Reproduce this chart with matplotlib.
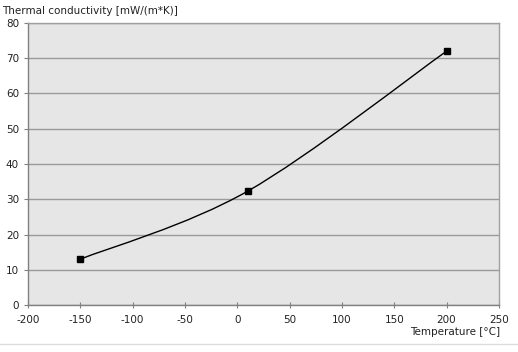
import matplotlib
matplotlib.use("Agg")
import matplotlib.pyplot as plt
from matplotlib.path import Path
from matplotlib.patches import PathPatch

plt.rcParams['font.family'] = ['Liberation Sans Narrow', 'DejaVu Sans']
plt.rcParams['axes.unicode_minus'] = False

temperature = [-150, 10, 200]
conductivity = [13, 32.3, 72]
x_ticks = [-200, -150, -100, -50, 0, 50, 100, 150, 200, 250]
y_ticks = [0, 10, 20, 30, 40, 50, 60, 70, 80]


def smooth_path(xs, ys, tension=1 / 6):
    # Bezier segments through the points (like a spreadsheet "smoothed line")
    pts = list(zip(xs, ys))
    verts = [pts[0]]
    codes = [Path.MOVETO]
    for i in range(len(pts) - 1):
        p0 = pts[i - 1] if i > 0 else pts[i]
        p1 = pts[i]
        p2 = pts[i + 1]
        p3 = pts[i + 2] if i + 2 < len(pts) else pts[i + 1]
        c1 = (p1[0] + (p2[0] - p0[0]) * tension, p1[1] + (p2[1] - p0[1]) * tension)
        c2 = (p2[0] - (p3[0] - p1[0]) * tension, p2[1] - (p3[1] - p1[1]) * tension)
        verts += [c1, c2, p2]
        codes += [Path.CURVE4] * 3
    return Path(verts, codes)


fig = plt.figure(figsize=(5.18, 3.52), dpi=100)
ax = fig.add_axes([0.054, 0.1335, 0.909, 0.8012])
ax.set_facecolor('#e6e6e6')

ax.set_xlim(-200, 250)
ax.set_ylim(0, 80)
ax.set_xticks(x_ticks)
ax.set_yticks(y_ticks)
ax.yaxis.grid(True, color='#9a9a9a', linewidth=1.0)
ax.set_axisbelow(True)

ax.add_patch(PathPatch(smooth_path(temperature, conductivity), facecolor='none',
                       edgecolor='black', linewidth=1.0, zorder=3))
ax.plot(temperature, conductivity, linestyle='none', marker='s', markersize=4,
        color='black', zorder=4)

for s in ax.spines.values():
    s.set_color('#a0a0a0')
    s.set_linewidth(1.0)
ax.spines['left'].set_color('#808080')
ax.spines['bottom'].set_color('#808080')

ax.tick_params(axis='both', labelsize=7.5, colors='#808080', labelcolor='#222222',
               length=3, width=0.8)
ax.tick_params(axis='x', direction='inout', length=4, pad=5)

fig.text(0.004, 0.97, 'Thermal conductivity [mW/(m*K)]', fontsize=7.5,
         color='#222222', ha='left', va='center')
fig.text(0.965, 0.058, 'Temperature [°C]', fontsize=7.5, color='#222222',
         ha='right', va='center')
fig.add_artist(plt.Line2D([0, 1], [0.023, 0.023], color='#dddddd', linewidth=1.0))

fig.savefig('out.png', dpi=100)
